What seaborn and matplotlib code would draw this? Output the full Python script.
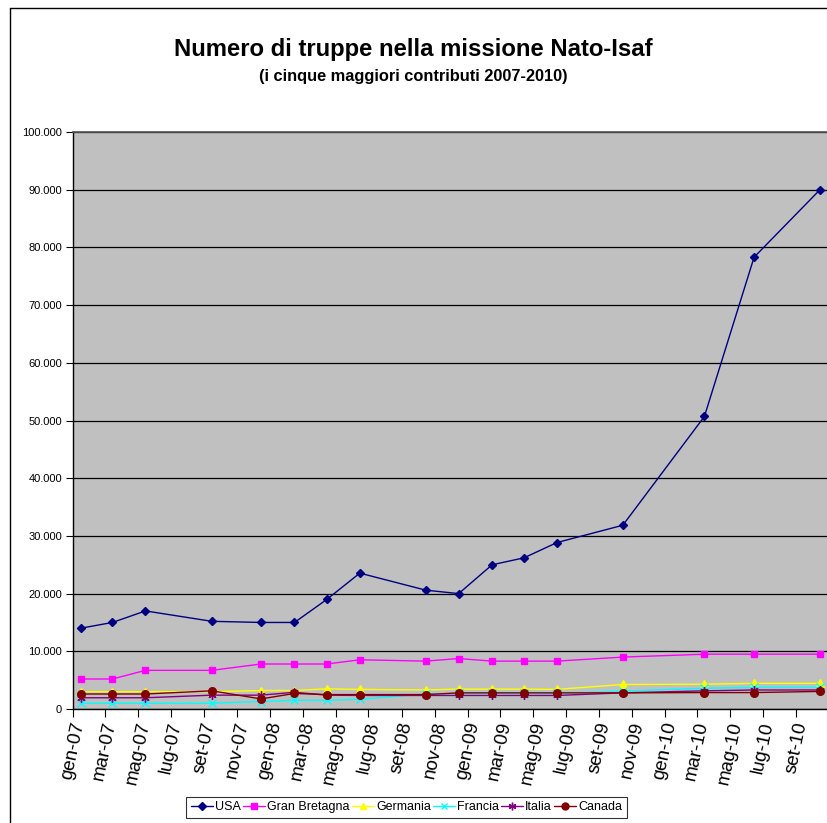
"""Truppe nella missione Nato-Isaf, cinque maggiori contributi 2007-2010."""

import matplotlib

matplotlib.use("Agg")

import matplotlib.dates as mdates
import matplotlib.pyplot as plt
import pandas as pd
import seaborn as sns
from matplotlib.lines import Line2D
from matplotlib.ticker import FuncFormatter, MultipleLocator

# dati
date = [
    "2007-01-15", "2007-03-15", "2007-05-15", "2007-09-15", "2007-12-15",
    "2008-02-15", "2008-04-15", "2008-06-15", "2008-10-15", "2008-12-15",
    "2009-02-15", "2009-04-15", "2009-06-15", "2009-10-15", "2010-03-15",
    "2010-06-15", "2010-10-15",
]
usa = [14000, 15000, 17000, 15200, 15000, 15000, 19000, 23550, 20600, 20000,
       25000, 26200, 28850, 31850, 50700, 78300, 90000]
gran_bretagna = [5200, 5200, 6700, 6700, 7800, 7800, 7800, 8530, 8300, 8750,
                 8300, 8300, 8300, 9000, 9500, 9500, 9500]
germania = [3000, 3000, 3000, 3000, 3200, 3200, 3500, 3400, 3300, 3450,
            3450, 3450, 3400, 4250, 4300, 4450, 4450]
francia = [1000, 1000, 1000, 1000, 1300, 1500, 1500, 1700, 2600, 2700,
           2700, 2700, 2700, 3100, 3600, 3750, 3750]
italia = [1950, 1950, 1950, 2400, 2400, 2900, 2400, 2350, 2350, 2350,
          2350, 2350, 2350, 2800, 3150, 3300, 3300]
canada = [2600, 2600, 2600, 3150, 1750, 2700, 2500, 2500, 2500, 2800,
          2800, 2800, 2800, 2800, 2850, 2850, 3050]

paesi = ["USA", "Gran Bretagna", "Germania", "Francia", "Italia", "Canada"]
mesi = ["gen", "feb", "mar", "apr", "mag", "giu",
        "lug", "ago", "set", "ott", "nov", "dic"]

colori = {
    "USA": "#000080",
    "Gran Bretagna": "#FF00FF",
    "Germania": "#FFFF00",
    "Francia": "#00FFFF",
    "Italia": "#800080",
    "Canada": "#800000",
}
marcatori = {
    "USA": "D",
    "Gran Bretagna": "s",
    "Germania": "^",
    "Francia": "x",
    "Italia": (6, 2, 0),
    "Canada": "o",
}
dimensioni = {
    "USA": 4.2,
    "Gran Bretagna": 5,
    "Germania": 5.5,
    "Francia": 5.5,
    "Italia": 6,
    "Canada": 5.5,
}

serie = [usa, gran_bretagna, germania, francia, italia, canada]
df = pd.concat(
    [pd.DataFrame({"data": pd.to_datetime(date), "truppe": v, "paese": p})
     for p, v in zip(paesi, serie)],
    ignore_index=True,
)

sns.set_theme(style="white")
plt.rcParams["font.family"] = ["Liberation Sans", "DejaVu Sans"]
plt.rcParams["text.color"] = "black"
plt.rcParams["xtick.labelcolor"] = "black"
plt.rcParams["ytick.labelcolor"] = "black"

fig = plt.figure(figsize=(8.27, 8.23), dpi=100)
ax = fig.add_axes([0.0883, 0.1385, 0.9117, 0.7011])
ax.set_facecolor("#C0C0C0")

for p in paesi:
    sns.lineplot(
        data=df[df["paese"] == p], x="data", y="truppe", color=colori[p],
        marker=marcatori[p], markersize=dimensioni[p], markeredgewidth=1.0,
        markeredgecolor=colori[p], linewidth=1.0, ax=ax, legend=False,
    )

ax.set_ylim(0, 100000)
ax.set_xlim(pd.Timestamp("2007-01-01"), pd.Timestamp("2010-10-28"))
ax.yaxis.set_major_locator(MultipleLocator(10000))
ax.yaxis.set_major_formatter(
    FuncFormatter(lambda v, _: f"{int(v):,}".replace(",", "."))
)
ax.xaxis.set_major_locator(mdates.MonthLocator(bymonth=[1, 3, 5, 7, 9, 11]))
ax.xaxis.set_major_formatter(
    FuncFormatter(lambda v, _: f"{mesi[mdates.num2date(v).month - 1]}-{mdates.num2date(v):%y}")
)
ax.grid(axis="y", color="black", linewidth=0.9)
ax.set_axisbelow(True)
ax.set_xlabel("")
ax.set_ylabel("")

for s in ["left", "bottom"]:
    ax.spines[s].set_color("black")
    ax.spines[s].set_linewidth(1.0)
ax.spines["right"].set_visible(False)
ax.spines["top"].set_color("#555555")

ax.tick_params(axis="y", length=5, width=0.8, color="black", labelsize=8, pad=3, left=True)
ax.tick_params(axis="x", length=6, width=0.8, color="black", labelsize=13.5, pad=2, bottom=True)
for lab in ax.get_xticklabels():
    lab.set_rotation(78)
    lab.set_ha("center")
    lab.set_va("top")

fig.text(0.5, 0.940, "Numero di truppe nella missione Nato-Isaf",
         ha="center", va="center", fontsize=17.2, fontweight="bold")
fig.text(0.5, 0.907, "(i cinque maggiori contributi 2007-2010)",
         ha="center", va="center", fontsize=11.8, fontweight="bold")

handles = [
    Line2D([], [], color=colori[p], marker=marcatori[p], markersize=dimensioni[p] - 0.5,
           markeredgecolor=colori[p], linewidth=1.0)
    for p in paesi
]
leg = fig.legend(
    handles, paesi, loc="upper center", bbox_to_anchor=(0.4915, 0.0316),
    ncol=6, fontsize=9, frameon=True, fancybox=False, handlelength=1.8,
    handletextpad=0.15, columnspacing=0.15, borderpad=0.35, borderaxespad=0,
)
leg.get_frame().set_edgecolor("black")
leg.get_frame().set_linewidth(0.8)

# bordo dell'area grafico
fig.add_artist(Line2D([0.0121, 0.0121], [0, 0.990], color="black", linewidth=1.0))
fig.add_artist(Line2D([0.0121, 1.0], [0.990, 0.990], color="black", linewidth=1.0))

fig.savefig("out.png", dpi=100, facecolor="white")
plt.close(fig)
